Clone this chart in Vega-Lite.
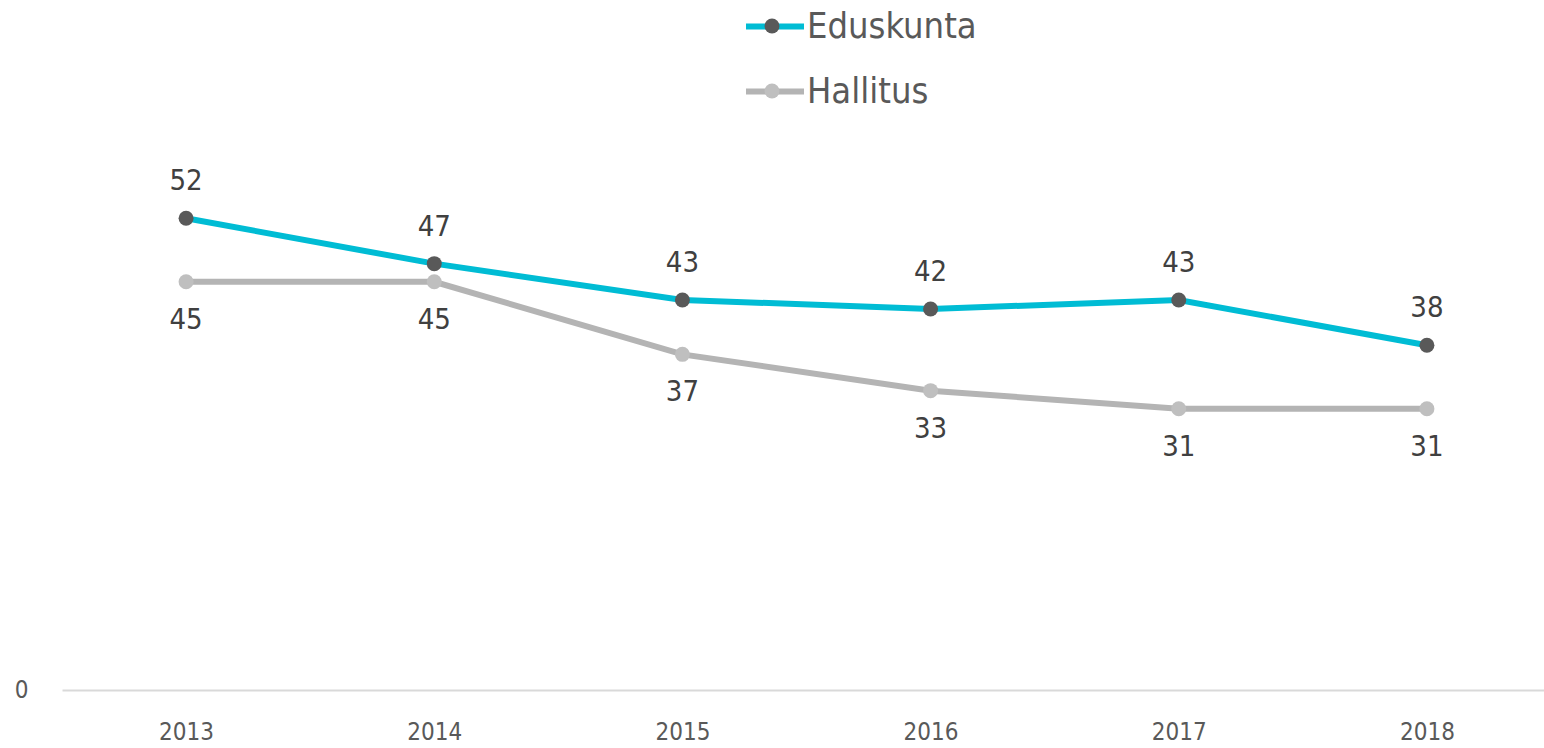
{
  "$schema": "https://vega.github.io/schema/vega-lite/v6.json",
  "autosize": "none",
  "width": 1489,
  "height": 635,
  "padding": {"left": 62, "top": 55, "right": 0, "bottom": 58},
  "background": "white",
  "config": {
    "font": "DejaVu Sans Condensed, sans-serif",
    "view": {"stroke": null}
  },
  "data": {
    "values": [
      {"year": "2013", "series": "Eduskunta", "value": 52},
      {"year": "2014", "series": "Eduskunta", "value": 47},
      {"year": "2015", "series": "Eduskunta", "value": 43},
      {"year": "2016", "series": "Eduskunta", "value": 42},
      {"year": "2017", "series": "Eduskunta", "value": 43},
      {"year": "2018", "series": "Eduskunta", "value": 38},
      {"year": "2013", "series": "Hallitus", "value": 45},
      {"year": "2014", "series": "Hallitus", "value": 45},
      {"year": "2015", "series": "Hallitus", "value": 37},
      {"year": "2016", "series": "Hallitus", "value": 33},
      {"year": "2017", "series": "Hallitus", "value": 31},
      {"year": "2018", "series": "Hallitus", "value": 31}
    ]
  },
  "encoding": {
    "x": {
      "field": "year", "type": "ordinal",
      "scale": {"type": "point", "padding": 0.5},
      "axis": {
        "title": null, "labelAngle": 0, "ticks": false,
        "domainColor": "#d9d9d9", "domainWidth": 2,
        "labelFontSize": 24, "labelColor": "#595959", "labelPadding": 30
      }
    },
    "y": {
      "field": "value", "type": "quantitative",
      "scale": {"domain": [0, 70], "nice": false},
      "axis": {
        "title": null, "values": [0], "domain": false, "ticks": false, "grid": false,
        "labelFontSize": 24, "labelColor": "#595959", "labelPadding": 34
      }
    }
  },
  "layer": [
    {
      "mark": {"type": "line", "strokeWidth": 6},
      "encoding": {
        "stroke": {
          "field": "series", "type": "nominal",
          "scale": {"domain": ["Eduskunta", "Hallitus"], "range": ["#00bcd4", "#b4b4b4"]},
          "legend": {
            "title": null, "orient": "none", "legendX": 681, "legendY": -60.5,
            "symbolType": "stroke", "symbolSize": 3364, "symbolStrokeWidth": 6,
            "rowPadding": 15, "padding": 0, "labelOffset": 0,
            "labelFontSize": 36, "labelColor": "#595959", "labelLimit": 400
          }
        }
      }
    },
    {
      "mark": {"type": "point", "filled": true, "opacity": 1, "size": 225},
      "encoding": {
        "fill": {
          "field": "series", "type": "nominal",
          "scale": {"range": ["#595959", "#bfbfbf"]},
          "legend": {
            "title": null, "orient": "none", "legendX": 702.5, "legendY": -36.5,
            "symbolType": "circle", "symbolSize": 225, "symbolStrokeWidth": 0, "symbolOpacity": 1,
            "rowPadding": 50, "padding": 0, "labelFontSize": 1, "labelOpacity": 0
          }
        }
      }
    },
    {
      "transform": [{"filter": "datum.series === 'Eduskunta'"}],
      "mark": {"type": "text", "dy": -37, "fontSize": 29, "color": "#404040"},
      "encoding": {"text": {"field": "value", "type": "quantitative"}}
    },
    {
      "transform": [{"filter": "datum.series === 'Hallitus'"}],
      "mark": {"type": "text", "dy": 38, "fontSize": 29, "color": "#404040"},
      "encoding": {"text": {"field": "value", "type": "quantitative"}}
    }
  ]
}
